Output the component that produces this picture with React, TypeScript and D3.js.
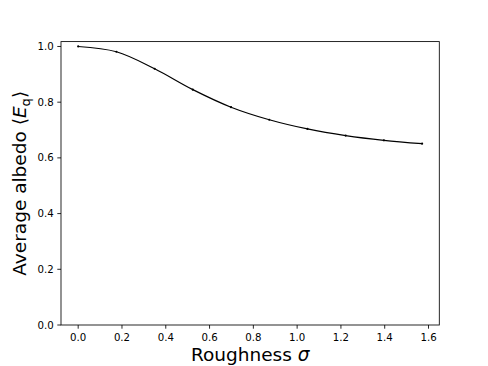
import React from "react";
import * as d3 from "d3";

const sigma = [0, 0.1745, 0.3491, 0.5236, 0.6981, 0.8727, 1.0472, 1.2217, 1.3963, 1.5708];
const albedo = [1.0, 0.981, 0.92, 0.845, 0.782, 0.737, 0.704, 0.68, 0.663, 0.651];
const xTicks = [0, 0.2, 0.4, 0.6, 0.8, 1.0, 1.2, 1.4, 1.6];
const yTicks = [0, 0.2, 0.4, 0.6, 0.8, 1.0];

const W = 488;
const H = 366;
const left = 61;
const right = 439.3;
const top = 41.6;
const bottom = 325;
const font = "DejaVu Sans, sans-serif";

const App = () => {
  const x = d3.scaleLinear().domain([-0.0785, 1.6493]).range([left, right]);
  const y = d3.scaleLinear().domain([0, 1.0175]).range([bottom, top]);
  const pts: [number, number][] = sigma.map((s, i) => [s, albedo[i]]);
  const line = d3
    .line<[number, number]>()
    .x((d) => x(d[0]))
    .y((d) => y(d[1]))
    .curve(d3.curveCatmullRom.alpha(0.5));

  return (
    <svg
      width={W}
      height={H}
      style={{ position: "absolute", left: 0, top: 0, background: "#fff" }}
      fontFamily={font}
    >
      <rect x={0} y={0} width={W} height={H} fill="#fff" />
      <path d={line(pts) || ""} fill="none" stroke="#000" strokeWidth={1.2} />
      {pts.map((d, i) => (
        <circle key={i} cx={x(d[0])} cy={y(d[1])} r={1.1} fill="#000" />
      ))}
      <rect
        x={left}
        y={top}
        width={right - left}
        height={bottom - top}
        fill="none"
        stroke="#000"
        strokeWidth={0.85}
      />
      {xTicks.map((t) => (
        <g key={t} transform={`translate(${x(t)},${bottom})`}>
          <line y2={3.7} stroke="#000" strokeWidth={0.85} />
          <text y={16} textAnchor="middle" fontSize={10.2} fill="#000">
            {t.toFixed(1)}
          </text>
        </g>
      ))}
      {yTicks.map((t) => (
        <g key={t} transform={`translate(${left},${y(t)})`}>
          <line x2={-3.7} stroke="#000" strokeWidth={0.85} />
          <text x={-7.4} dy="0.35em" textAnchor="end" fontSize={10.2} fill="#000">
            {t.toFixed(1)}
          </text>
        </g>
      ))}
      <text x={(left + right) / 2} y={361} textAnchor="middle" fontSize={18.5} fill="#000">
        Roughness <tspan fontStyle="italic">σ</tspan>
      </text>
      <text
        transform={`translate(26,${(top + bottom) / 2}) rotate(-90)`}
        textAnchor="middle"
        fontSize={18.5}
        fill="#000"
      >
        Average albedo ⟨<tspan fontStyle="italic">E</tspan>
        <tspan fontSize={13} dy={4}>q</tspan>
        <tspan dy={-4}>⟩</tspan>
      </text>
    </svg>
  );
};

export default App;
